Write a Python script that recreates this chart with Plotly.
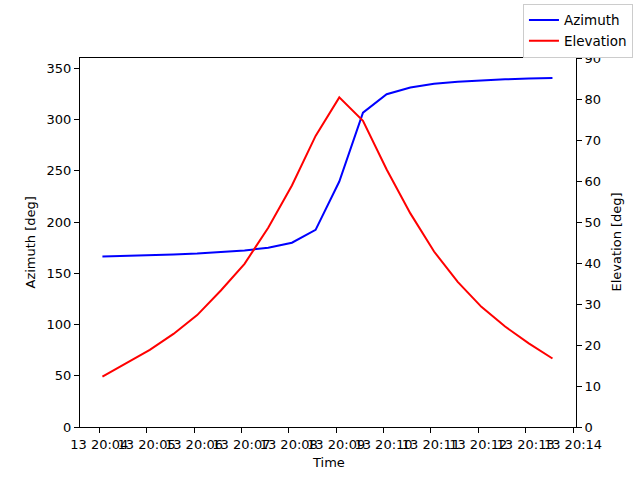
import pandas as pd
import plotly.graph_objects as go

# Pasada del satélite, muestras cada 30 s
times = pd.date_range("2023-06-13 20:04:04", periods=20, freq="30s")

azimuth = [166.3, 166.8, 167.4, 168.2, 169.2, 170.5, 172.3, 174.8, 179.8, 192.3,
           239.5, 306.6, 324.7, 331.3, 334.8, 336.8, 338.2, 339.2, 340.0, 340.5]

elevation = [12.3, 15.5, 18.8, 22.7, 27.3, 33.3, 39.8, 48.6, 58.9, 71.0,
             80.4, 74.7, 62.8, 52.1, 42.8, 35.4, 29.3, 24.5, 20.4, 16.7]

az_ticks = [0, 50, 100, 150, 200, 250, 300, 350]
el_ticks = [0, 10, 20, 30, 40, 50, 60, 70, 80, 90]

fig = go.Figure()
fig.add_trace(go.Scatter(x=times, y=azimuth, mode="lines", name="Azimuth",
                         line=dict(color="blue", width=2)))
fig.add_trace(go.Scatter(x=times, y=elevation, mode="lines", name="Elevation",
                         line=dict(color="red", width=2), yaxis="y2"))

axis_style = dict(showline=True, linecolor="black", linewidth=1, showgrid=False,
                  zeroline=False, ticks="outside", ticklen=5, tickcolor="black",
                  tickfont=dict(size=13, color="black"), automargin=False)

fig.update_layout(
    width=640, height=480,
    margin=dict(l=80, r=64, t=58, b=53, autoexpand=False),
    paper_bgcolor="white", plot_bgcolor="white",
    font=dict(family="DejaVu Sans", size=13, color="black"),
    xaxis=dict(**axis_style, mirror=True,
               range=[pd.Timestamp("2023-06-13 20:03:35.6"), pd.Timestamp("2023-06-13 20:14:03.8")],
               tick0=pd.Timestamp("2023-06-13 20:04:00"), dtick=60000,
               tickformat="%d %H:%M", tickangle=0),
    yaxis=dict(**axis_style, mirror=True, range=[0, 360], tickvals=az_ticks),
    yaxis2=dict(**axis_style, overlaying="y", side="right", range=[0, 90],
                tickvals=el_ticks),
    legend=dict(xref="container", yref="container", x=0.989, y=0.992,
                xanchor="right", yanchor="top", bgcolor="white",
                bordercolor="#cccccc", borderwidth=1, font=dict(size=13.5),
                itemwidth=30, tracegroupgap=0),
    showlegend=True,
)

# títulos de los ejes como anotaciones (posición más precisa)
fig.add_annotation(text="Time", xref="paper", yref="paper", x=0.5, y=0,
                   xanchor="center", yanchor="middle", yshift=-35,
                   showarrow=False, font=dict(size=13))
fig.add_annotation(text="Azimuth [deg]", xref="paper", yref="paper", x=0, y=0.5,
                   xanchor="center", yanchor="middle", xshift=-50, textangle=-90,
                   showarrow=False, font=dict(size=13))
fig.add_annotation(text="Elevation [deg]", xref="paper", yref="paper", x=1, y=0.5,
                   xanchor="center", yanchor="middle", xshift=40, textangle=-90,
                   showarrow=False, font=dict(size=13))

# quitar el margen por defecto del navegador
fig.write_html("out.html", config={"displayModeBar": False},
               post_script="document.body.style.margin='0';")
